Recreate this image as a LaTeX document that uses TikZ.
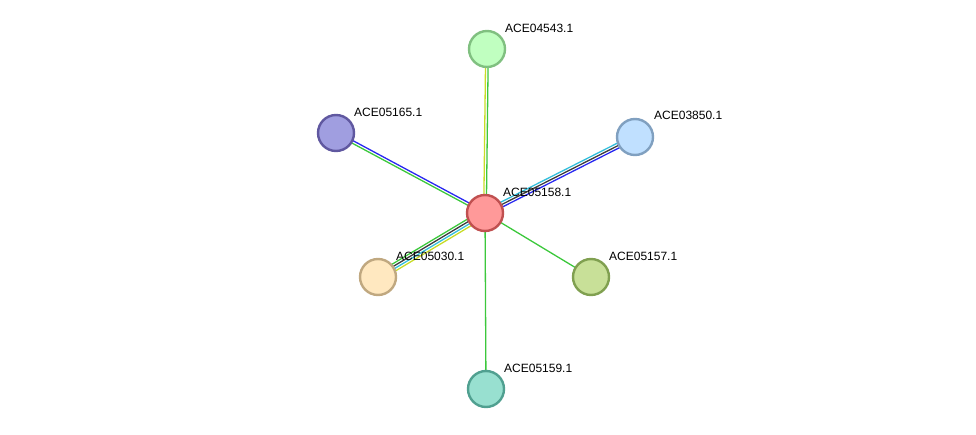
\documentclass[tikz,border=0pt]{standalone}
\usepackage{fontspec}
\setmainfont{Liberation Sans}
\usetikzlibrary{calc}
\definecolor{egreen}{RGB}{60,200,60}
\definecolor{eyellow}{RGB}{200,220,40}
\definecolor{ecyan}{RGB}{50,190,220}
\definecolor{eblue}{RGB}{40,40,240}
\definecolor{egray}{RGB}{60,60,60}
\tikzset{
  prot/.style={circle, draw, line width=2.4pt, minimum size=36pt, inner sep=0pt},
  lbl/.style={anchor=west, inner sep=0pt, font=\fontsize{12}{14}\selectfont},
  eline/.style={line width=1.3pt}
}
\newcommand{\pline}[4]{\draw[eline,#1] ($(#3.center)!#2!90:(#4.center)$) -- ($(#4.center)!#2!-90:(#3.center)$);}
\begin{document}
\begin{tikzpicture}[x=1pt,y=1pt]
\useasboundingbox (0,0) rectangle (976,434);
\coordinate (pc) at (485,221);
\coordinate (p1) at (487,385);
\coordinate (p2) at (336,301);
\coordinate (p3) at (635,297);
\coordinate (p4) at (378,157);
\coordinate (p5) at (591,157);
\coordinate (p6) at (486,45);
% edges
\pline{eyellow}{1.3pt}{pc}{p1}
\pline{egreen}{-1.3pt}{pc}{p1}
\pline{eblue}{-1.3pt}{pc}{p2}
\pline{egreen}{1.3pt}{pc}{p2}
\pline{ecyan}{2.5pt}{pc}{p3}
\pline{egray}{0pt}{pc}{p3}
\pline{eblue}{-2.5pt}{pc}{p3}
\pline{egreen}{-3.75pt}{pc}{p4}
\pline{egray}{-1.25pt}{pc}{p4}
\pline{ecyan}{1.25pt}{pc}{p4}
\pline{eyellow}{3.75pt}{pc}{p4}
\pline{egreen}{0pt}{pc}{p5}
\pline{egreen}{0pt}{pc}{p6}
% nodes
\node[prot, fill={rgb,255:red,255;green,153;blue,153}, draw={rgb,255:red,192;green,80;blue,80}] (c) at (pc) {};
\node[prot, fill={rgb,255:red,192;green,255;blue,192}, draw={rgb,255:red,128;green,192;blue,128}] (n1) at (p1) {};
\node[prot, fill={rgb,255:red,160;green,158;blue,224}, draw={rgb,255:red,96;green,88;blue,160}] (n2) at (p2) {};
\node[prot, fill={rgb,255:red,192;green,224;blue,255}, draw={rgb,255:red,128;green,160;blue,192}] (n3) at (p3) {};
\node[prot, fill={rgb,255:red,255;green,232;blue,192}, draw={rgb,255:red,192;green,168;blue,128}] (n4) at (p4) {};
\node[prot, fill={rgb,255:red,200;green,224;blue,152}, draw={rgb,255:red,128;green,160;blue,80}] (n5) at (p5) {};
\node[prot, fill={rgb,255:red,152;green,224;blue,208}, draw={rgb,255:red,80;green,160;blue,144}] (n6) at (p6) {};
% labels
\node[lbl] (lc) at ($(c.center)+(18,21)$) {ACE05158.1};
\node[lbl] (l1) at ($(n1.center)+(18,21)$) {ACE04543.1};
\node[lbl] (l2) at ($(n2.center)+(18,21)$) {ACE05165.1};
\node[lbl] (l3) at ($(n3.center)+(19,22)$) {ACE03850.1};
\node[lbl] (l4) at ($(n4.center)+(18,21)$) {ACE05030.1};
\node[lbl] (l5) at ($(n5.center)+(18,21)$) {ACE05157.1};
\node[lbl] (l6) at ($(n6.center)+(18,21)$) {ACE05159.1};
\end{tikzpicture}
\end{document}
